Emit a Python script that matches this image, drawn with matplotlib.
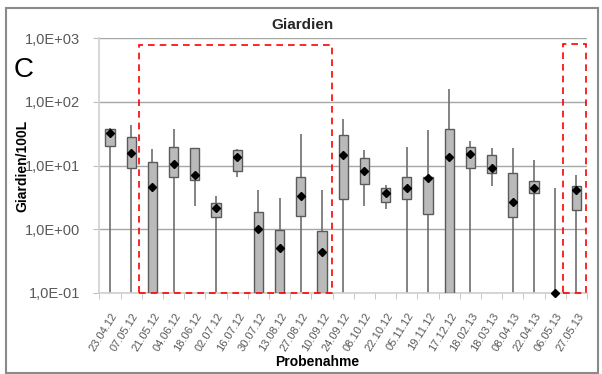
import matplotlib
matplotlib.use("Agg")
import matplotlib.pyplot as plt
from matplotlib.patches import Rectangle
from matplotlib.transforms import ScaledTranslation
import numpy as np

plt.rcParams['font.family'] = ['Liberation Sans', 'DejaVu Sans']

dates = ["23.04.12", "07.05.12", "21.05.12", "04.06.12", "18.06.12", "02.07.12",
         "16.07.12", "30.07.12", "13.08.12", "27.08.12", "10.09.12", "24.09.12",
         "08.10.12", "22.10.12", "05.11.12", "19.11.12", "17.12.12", "18.02.13",
         "18.03.13", "08.04.13", "22.04.13", "06.05.13", "27.05.13"]

whisker_min = [0.1, 0.1, 0.1, 0.1, 2.3, 0.1, 6.7, 0.1, 0.1, 0.1, 0.1, 0.1,
               2.3, 2.1, 0.1, 0.1, 0.1, 0.1, 4.8, 0.1, 0.1, 0.1, 0.1]
q1 = [20, 9.1, 0.1, 6.5, 5.9, 1.54, 8.3, 0.1, 0.1, 1.64, 0.1, 2.98,
      5.1, 2.7, 2.98, 1.74, 0.1, 9.3, 7.6, 1.54, 3.7, 0.1, 2.0]
q3 = [38, 28, 11.4, 19.6, 18.5, 2.55, 17.6, 1.89, 0.99, 6.5, 0.94, 29.8,
      13.3, 4.4, 6.5, 6.7, 37, 19.5, 14.5, 7.6, 5.75, 0.1, 4.8]
whisker_max = [39, 42.7, 18, 38, 18.5, 3.36, 18, 4.1, 3.05, 31, 4.1, 54,
               17.6, 5.0, 19.8, 36, 156, 24.3, 19.1, 19.1, 12.1, 4.4, 7.0]
median = [32, 15.6, 4.6, 10.6, 7.2, 2.13, 13.8, 1.01, 0.505, 3.3, 0.44, 14.5,
          8.3, 3.7, 4.4, 6.3, 13.8, 15.4, 9.0, 2.64, 4.4, 0.1, 4.17]

yticks = [0.1, 1, 10, 100, 1000]
yticklabels = ["1,0E-01", "1,0E+00", "1,0E+01", "1,0E+02", "1,0E+03"]

# highlighted sample ranges (first, last category index)
highlights = [(2, 10, 785), (22, 22, 813)]

fig = plt.figure(figsize=(6.02, 3.74), dpi=100)
W, H = 602, 374
L, R, T, B = 99.4, 587, 38, 293
ax = fig.add_axes([L / W, 1 - B / H, (R - L) / W, (B - T) / H])

x = np.arange(len(dates))
bw = 0.44
edge = '#5a5a5a'
ax.vlines(x, whisker_min, whisker_max, color='#6e6e6e', lw=1.2, zorder=2)
for xi, a, b in zip(x, q1, q3):
    if b > a:
        ax.add_patch(Rectangle((xi - bw / 2, a), bw, b - a, facecolor='#bababa',
                               edgecolor=edge, lw=1.0, zorder=3))
ax.plot(x, median, linestyle='none', marker='D', color='black', markersize=4,
        zorder=4, clip_on=False)

ax.set_yscale('log')
ax.set_ylim(0.1, 1000)
ax.set_xlim(-0.5, len(dates) - 0.5)
ax.set_yticks(yticks)
ax.set_yticklabels(yticklabels, fontsize=10.5, color='#595959')
ax.yaxis.set_minor_locator(matplotlib.ticker.NullLocator())
ax.grid(axis='y', color='#a6a6a6', lw=1.0, zorder=0)
ax.set_axisbelow(True)

ax.set_xticks(x)
ax.set_xticklabels(dates, rotation=58, ha='right', va='center',
                   rotation_mode='anchor', fontsize=8, color='#595959')
ax.set_xticks(np.arange(-0.5, len(dates), 1.0), minor=True)
ax.tick_params(axis='x', which='major', length=0, pad=15)
ax.tick_params(axis='x', which='minor', length=4, color='#bfbfbf')
ax.tick_params(axis='y', length=4, color='#bfbfbf', pad=10)

offset = ScaledTranslation(5 / 100, 0, fig.dpi_scale_trans)
for lbl in ax.get_xticklabels():
    lbl.set_transform(lbl.get_transform() + offset)

for s in ['top', 'right']:
    ax.spines[s].set_visible(False)
for s in ['left', 'bottom']:
    ax.spines[s].set_color('#d0d0d0')
    ax.spines[s].set_linewidth(1.2)

for a, b, top in highlights:
    ax.add_patch(Rectangle((a - 0.63, 0.1), b - a + 1.1, top - 0.1, fill=False,
                           edgecolor='#ff0000', linestyle=(0, (4, 3)), lw=1.2,
                           zorder=5, clip_on=False))

ax.set_ylabel("Giardien/100L", fontsize=10, fontweight='bold')
ax.yaxis.set_label_coords((22 - L) / (R - L), 0.5)
ax.yaxis.label.set_va('center')
ax.set_xlabel("Probenahme", fontsize=10, fontweight='bold')
ax.xaxis.set_label_coords((317 - L) / (R - L), -(362 - B) / (B - T))
ax.xaxis.label.set_va('center')
fig.text(302 / W, 1 - 25 / H, "Giardien", ha='center', va='center',
         fontsize=11, fontweight='bold', color='#262626')
fig.text(14 / W, 1 - 70 / H, "C", ha='left', va='center', fontsize=20)

fig.patches.append(Rectangle((6 / W, 1 - 373 / H), 592 / W, 365 / H, fill=False,
                             edgecolor='#8a8a8a', lw=1.5, transform=fig.transFigure))

fig.savefig("out.png", dpi=100)
